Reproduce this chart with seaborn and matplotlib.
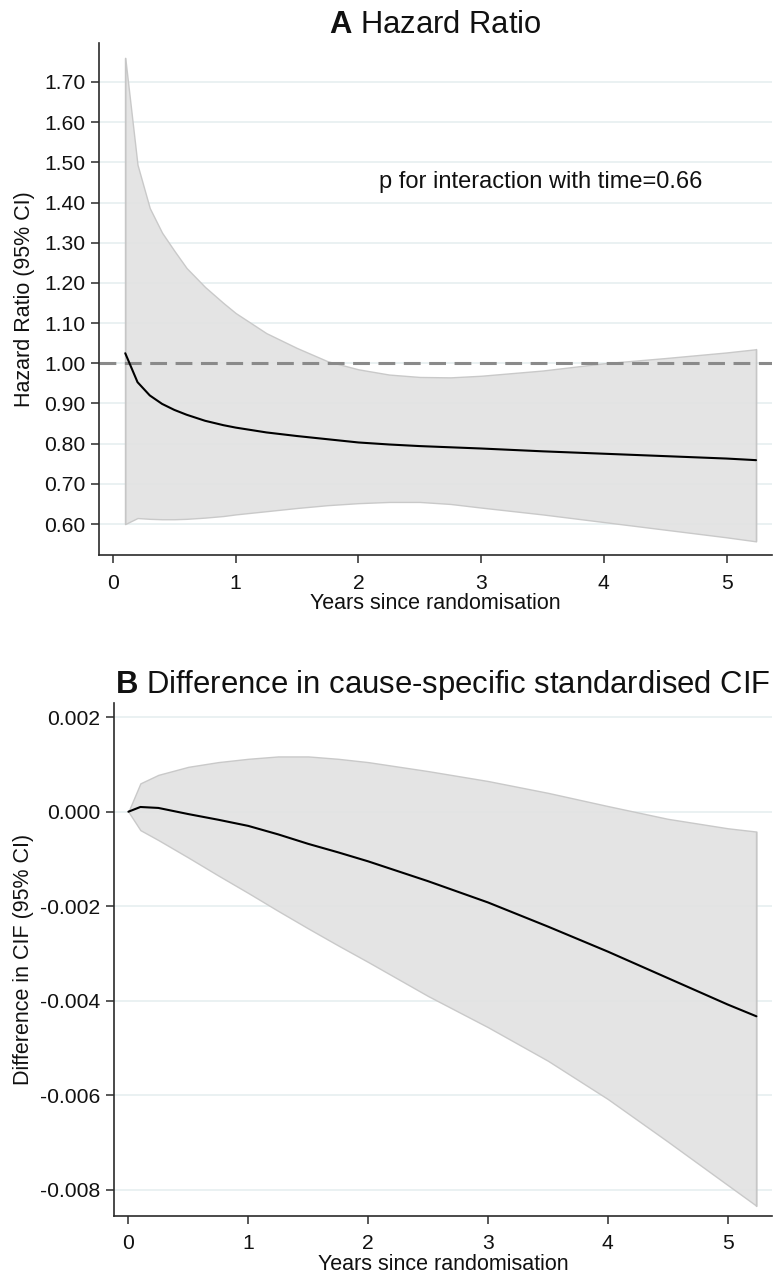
import numpy as np
import pandas as pd
import matplotlib
matplotlib.use("Agg")
import matplotlib.pyplot as plt
import seaborn as sns

# ---------------- data ----------------
# Panel A: hazard ratio over time
hr_years = [0.1, 0.2, 0.3, 0.4, 0.5, 0.6, 0.75, 0.9, 1.0, 1.25, 1.5, 1.75, 2.0, 2.25,
            2.5, 2.75, 3.0, 3.5, 4.0, 4.5, 5.0, 5.24]
hr_est = [1.025, 0.953, 0.920, 0.899, 0.884, 0.872, 0.857, 0.846, 0.840, 0.828, 0.819,
          0.811, 0.803, 0.798, 0.794, 0.791, 0.788, 0.781, 0.775, 0.769, 0.763, 0.759]
hr_upper = [1.760, 1.494, 1.386, 1.325, 1.280, 1.237, 1.190, 1.150, 1.125, 1.075, 1.038,
            1.005, 0.985, 0.972, 0.966, 0.965, 0.969, 0.982, 1.000, 1.013, 1.027, 1.035]
hr_lower = [0.600, 0.615, 0.613, 0.612, 0.612, 0.613, 0.616, 0.620, 0.624, 0.632, 0.640,
            0.647, 0.652, 0.655, 0.655, 0.650, 0.641, 0.624, 0.605, 0.586, 0.567, 0.557]
hr_yticks = [0.6, 0.7, 0.8, 0.9, 1.0, 1.1, 1.2, 1.3, 1.4, 1.5, 1.6, 1.7]
hr_yticklabels = ["0.60", "0.70", "0.80", "0.90", "1.00", "1.10", "1.20", "1.30",
                  "1.40", "1.50", "1.60", "1.70"]

# Panel B: difference in cause-specific standardised CIF
cif_years = [0.0, 0.1, 0.25, 0.5, 0.75, 1.0, 1.25, 1.5, 1.75, 2.0, 2.5, 3.0, 3.5,
             4.0, 4.5, 5.0, 5.24]
cif_est = [0.0, 0.0001, 0.00008, -0.00005, -0.00017, -0.0003, -0.00048, -0.00068,
           -0.00086, -0.00105, -0.00147, -0.00192, -0.00243, -0.00296, -0.00352,
           -0.00408, -0.00433]
cif_upper = [0.0, 0.0006, 0.00078, 0.00095, 0.00105, 0.00112, 0.00117, 0.00117,
             0.00112, 0.00105, 0.00086, 0.00065, 0.00040, 0.00012, -0.00015,
             -0.00035, -0.00042]
cif_lower = [0.0, -0.00039, -0.0006, -0.00097, -0.00135, -0.00172, -0.0021, -0.00247,
             -0.00283, -0.00318, -0.0039, -0.00456, -0.00527, -0.00608, -0.00698,
             -0.0079, -0.00834]
cif_yticks = [-0.008, -0.006, -0.004, -0.002, 0.0, 0.002]
cif_yticklabels = ["-0.008", "-0.006", "-0.004", "-0.002", "0.000", "0.002"]

xticks = [0, 1, 2, 3, 4, 5]
xlabel = "Years since randomisation"

# ---------------- style ----------------
sns.set_theme(style="white")
plt.rcParams["font.family"] = ["Liberation Sans", "DejaVu Sans"]
plt.rcParams["mathtext.fontset"] = "custom"
plt.rcParams["mathtext.rm"] = "Liberation Sans"
plt.rcParams["mathtext.bf"] = "Liberation Sans:bold"
plt.rcParams["axes.unicode_minus"] = False

FILL = "#E2E2E2"
EDGE = "#C6C6C6"
GRID = "#E6EFF0"
SPINE = "#2b2b2b"
TXT = "#111111"

fig = plt.figure(figsize=(7.74, 12.75), dpi=100)
ax1 = fig.add_axes([0.1279, 0.5647, 0.8695, 0.4016])
ax2 = fig.add_axes([0.1473, 0.0465, 0.8501, 0.4021])

df_hr = pd.DataFrame({"years": hr_years, "est": hr_est, "lo": hr_lower, "hi": hr_upper})
df_cif = pd.DataFrame({"years": cif_years, "est": cif_est, "lo": cif_lower, "hi": cif_upper})


def style_axis(ax, yticks, yticklabels, ylabel, ylabelpad):
    for s in ["top", "right"]:
        ax.spines[s].set_visible(False)
    for s in ["left", "bottom"]:
        ax.spines[s].set_color(SPINE)
        ax.spines[s].set_linewidth(1.2)
    ax.set_yticks(yticks)
    ax.set_yticklabels(yticklabels)
    ax.set_xticks(xticks)
    ax.set_xticklabels([str(t) for t in xticks])
    ax.tick_params(axis="y", direction="out", length=6, width=1.1, color=SPINE,
                   pad=3.6, labelsize=15.2, labelcolor=TXT, left=True)
    ax.tick_params(axis="x", direction="out", length=6, width=1.1, color=SPINE,
                   pad=7.5, labelsize=15.2, labelcolor=TXT, bottom=True)
    for y in yticks:
        ax.axhline(y, color=GRID, lw=1.2, zorder=0.5)
    ax.set_ylabel(ylabel, fontsize=15.5, labelpad=ylabelpad, color=TXT)
    ax.set_xlabel(xlabel, fontsize=15.5, labelpad=0.5, color=TXT)


# Panel A
ax1.fill_between(df_hr["years"], df_hr["lo"], df_hr["hi"], facecolor=FILL,
                 edgecolor=EDGE, lw=1.0, alpha=0.92, zorder=1)
ax1.plot([hr_years[-1]] * 2, [hr_lower[-1], hr_upper[-1]], color=EDGE, lw=1.0, zorder=1)
ax1.plot([hr_years[0]] * 2, [hr_lower[0], hr_upper[0]], color=EDGE, lw=1.0, zorder=1)
ax1.axhline(1.0, color="#8A8A8A", lw=2.2, dashes=(5.5, 2.8), zorder=2)
sns.lineplot(data=df_hr, x="years", y="est", ax=ax1, color="black", lw=1.5, zorder=3)
ax1.set_xlim(-0.114, 5.37)
ax1.set_ylim(0.523, 1.797)
style_axis(ax1, hr_yticks, hr_yticklabels, "Hazard Ratio (95% CI)", 7)
ax1.text(2.17, 1.45, "p for interaction with time=0.66", fontsize=17,
         ha="left", va="center", color=TXT)
ax1.set_title(r"$\bf{A}$ Hazard Ratio", fontsize=22.3, pad=7, color=TXT)

# Panel B
ax2.fill_between(df_cif["years"], df_cif["lo"], df_cif["hi"], facecolor=FILL,
                 edgecolor=EDGE, lw=1.0, alpha=0.92, zorder=1)
ax2.plot([cif_years[-1]] * 2, [cif_lower[-1], cif_upper[-1]], color=EDGE, lw=1.0, zorder=1)
sns.lineplot(data=df_cif, x="years", y="est", ax=ax2, color="black", lw=1.5, zorder=3)
ax2.set_xlim(-0.12, 5.37)
ax2.set_ylim(-0.00855, 0.0023)
style_axis(ax2, cif_yticks, cif_yticklabels, "Difference in CIF (95% CI)", 4.5)
ax2.set_title(r"$\bf{B}$ Difference in cause-specific standardised CIF", fontsize=22.3,
              pad=7, color=TXT)

fig.savefig("out.png", dpi=100)
